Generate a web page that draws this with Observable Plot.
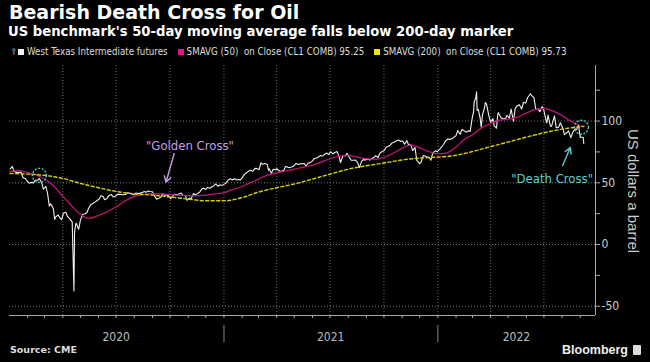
<!DOCTYPE html>
<html><head><meta charset="utf-8">
<script src="https://cdn.jsdelivr.net/npm/d3@7"></script>
<script src="https://cdn.jsdelivr.net/npm/@observablehq/plot@0.6"></script>
<style>
body{margin:0;background:#000;width:650px;height:362px;overflow:hidden;position:relative;}
.narrow{font-family:"Liberation Sans Narrow","DejaVu Sans Condensed","Roboto Condensed",sans-serif;font-stretch:condensed;}
#title{position:absolute;left:9px;top:1px;font:bold 19px "DejaVu Sans",sans-serif;color:#fff;white-space:nowrap;}
#subtitle{position:absolute;left:8px;top:24px;font:bold 13.2px "DejaVu Sans",sans-serif;color:#fff;white-space:nowrap;}
#legend{position:absolute;left:12px;top:46px;font-size:9.7px;color:#ddd;display:flex;align-items:center;white-space:nowrap;}
#legend .sw{display:inline-block;width:6px;height:6px;margin-right:3px;}
#legend .item{display:flex;align-items:center;margin-right:10px;}
#chart{position:absolute;left:0;top:58px;}
#ytitle{position:absolute;left:633px;top:191px;transform:translate(-50%,-50%) rotate(90deg);font:15px "Liberation Sans",sans-serif;color:#ccc;white-space:nowrap;}
#source{position:absolute;left:10px;top:344px;font:bold 9.5px "DejaVu Sans",sans-serif;color:#ddd;}
#brand{position:absolute;right:9px;top:343px;font:bold 12.5px "Liberation Sans",sans-serif;color:#eee;display:flex;align-items:center;}
#brand .logo{display:inline-block;width:8px;height:10px;background:#ddd;border-radius:1px;margin-left:5px;}
</style></head><body>
<div id="title">Bearish Death Cross for Oil</div>
<div id="subtitle">US benchmark's 50-day moving average falls below 200-day marker</div>
<div id="legend" class="narrow"></div>
<div id="chart"></div>
<div id="ytitle">US dollars a barrel</div>
<div id="source">Source: CME</div>
<div id="brand">Bloomberg<span class="logo"></span></div>
<script>
// ---- Data ----
const wtiDates = [
"2020-01-02","2020-01-06","2020-01-08","2020-01-10","2020-01-14","2020-01-17","2020-01-21","2020-01-24","2020-01-28","2020-01-31",
"2020-02-04","2020-02-07","2020-02-11","2020-02-14","2020-02-18","2020-02-21","2020-02-25","2020-02-28","2020-03-03","2020-03-06",
"2020-03-09","2020-03-11","2020-03-13","2020-03-16","2020-03-18","2020-03-20","2020-03-24","2020-03-27","2020-03-30","2020-04-02",
"2020-04-06","2020-04-09","2020-04-14","2020-04-17","2020-04-20","2020-04-21","2020-04-23","2020-04-24","2020-04-28","2020-05-01",
"2020-05-05","2020-05-08","2020-05-12","2020-05-15","2020-05-19","2020-05-22","2020-05-26","2020-05-29","2020-06-02","2020-06-05",
"2020-06-09","2020-06-11","2020-06-15","2020-06-19","2020-06-23","2020-06-26","2020-06-30","2020-07-03","2020-07-07","2020-07-10",
"2020-07-14","2020-07-17","2020-07-21","2020-07-24","2020-07-28","2020-07-31","2020-08-04","2020-08-07","2020-08-11","2020-08-14",
"2020-08-18","2020-08-21","2020-08-25","2020-08-28","2020-09-01","2020-09-04","2020-09-08","2020-09-11","2020-09-15","2020-09-18",
"2020-09-22","2020-09-25","2020-09-29","2020-10-02","2020-10-06","2020-10-09","2020-10-13","2020-10-16","2020-10-20","2020-10-23",
"2020-10-27","2020-10-30","2020-11-03","2020-11-06","2020-11-10","2020-11-13","2020-11-17","2020-11-20","2020-11-24","2020-11-27",
"2020-12-01","2020-12-04","2020-12-08","2020-12-11","2020-12-15","2020-12-18","2020-12-22","2020-12-24","2020-12-29","2020-12-31",
"2021-01-05","2021-01-08","2021-01-12","2021-01-15","2021-01-20","2021-01-22","2021-01-26","2021-01-29","2021-02-02","2021-02-05",
"2021-02-09","2021-02-12","2021-02-16","2021-02-19","2021-02-23","2021-02-26","2021-03-02","2021-03-05","2021-03-08","2021-03-12",
"2021-03-16","2021-03-18","2021-03-19","2021-03-23","2021-03-26","2021-03-30","2021-04-01","2021-04-06","2021-04-09","2021-04-13",
"2021-04-16","2021-04-20","2021-04-23","2021-04-27","2021-04-30","2021-05-04","2021-05-07","2021-05-11","2021-05-14","2021-05-18",
"2021-05-21","2021-05-25","2021-05-28","2021-06-01","2021-06-04","2021-06-08","2021-06-11","2021-06-15","2021-06-18","2021-06-22",
"2021-06-25","2021-06-29","2021-07-02","2021-07-06","2021-07-09","2021-07-13","2021-07-16","2021-07-19","2021-07-23","2021-07-27",
"2021-07-30","2021-08-03","2021-08-06","2021-08-10","2021-08-13","2021-08-17","2021-08-20","2021-08-24","2021-08-27","2021-08-31",
"2021-09-03","2021-09-07","2021-09-10","2021-09-14","2021-09-17","2021-09-21","2021-09-24","2021-09-28","2021-10-01","2021-10-05",
"2021-10-08","2021-10-12","2021-10-15","2021-10-19","2021-10-22","2021-10-26","2021-10-29","2021-11-02","2021-11-05","2021-11-09",
"2021-11-12","2021-11-16","2021-11-19","2021-11-23","2021-11-26","2021-11-30","2021-12-01","2021-12-03","2021-12-07","2021-12-10",
"2021-12-14","2021-12-17","2021-12-20","2021-12-23","2021-12-28","2021-12-31","2022-01-04","2022-01-07","2022-01-11","2022-01-14",
"2022-01-18","2022-01-21","2022-01-25","2022-01-28","2022-02-01","2022-02-04","2022-02-08","2022-02-11","2022-02-15","2022-02-18",
"2022-02-23","2022-02-25","2022-03-01","2022-03-03","2022-03-04","2022-03-07","2022-03-08","2022-03-09","2022-03-11","2022-03-14",
"2022-03-16","2022-03-18","2022-03-22","2022-03-23","2022-03-25","2022-03-29","2022-04-01","2022-04-05","2022-04-07","2022-04-11",
"2022-04-13","2022-04-14","2022-04-19","2022-04-22","2022-04-26","2022-04-29","2022-05-03","2022-05-06","2022-05-10","2022-05-13",
"2022-05-17","2022-05-20","2022-05-24","2022-05-27","2022-05-31","2022-06-03","2022-06-08","2022-06-10","2022-06-14","2022-06-17",
"2022-06-21","2022-06-24","2022-06-28","2022-07-01","2022-07-05","2022-07-06","2022-07-08","2022-07-12","2022-07-14","2022-07-15",
"2022-07-19","2022-07-22","2022-07-26","2022-07-29","2022-08-02","2022-08-05","2022-08-09","2022-08-12","2022-08-16","2022-08-19",
"2022-08-23","2022-08-26","2022-08-29","2022-09-01","2022-09-02","2022-09-06","2022-09-07"
];
const wtiClose = [
61.18,63.27,59.61,59.04,58.23,58.54,58.34,54.19,53.48,51.56,
49.61,50.32,49.94,52.05,52.05,53.38,49.90,44.76,47.18,41.28,
31.13,32.98,31.73,28.70,20.37,22.43,24.01,21.51,20.09,25.32,
26.08,22.76,20.11,18.27,-37.63,10.01,16.50,17.18,12.34,19.78,
24.56,24.74,25.78,29.43,32.50,33.25,34.35,35.49,36.81,39.55,
38.94,36.34,37.12,39.75,40.37,38.49,39.27,40.65,40.62,40.55,
40.29,40.59,41.92,41.29,41.04,40.27,41.70,41.22,41.61,42.01,
42.89,42.34,43.35,42.97,42.76,39.77,36.76,37.33,38.28,41.11,
39.80,40.25,39.29,37.05,39.57,40.60,40.20,40.88,41.70,39.85,
39.57,35.79,37.66,37.14,41.36,40.13,41.43,42.15,44.91,45.53,
44.55,46.26,45.60,46.57,47.62,49.10,47.02,48.23,48.00,48.52,
49.93,52.24,53.21,52.36,53.31,52.27,52.61,52.20,54.76,56.85,
58.36,59.47,60.05,59.24,61.67,61.50,60.64,66.09,65.05,65.61,
64.80,60.00,61.42,57.76,60.97,60.55,61.45,59.33,59.32,60.18,
63.13,62.67,62.14,62.94,63.58,65.69,64.90,65.28,65.37,65.49,
63.58,66.07,66.32,67.72,69.62,70.05,70.91,72.12,71.64,73.06,
74.05,72.98,75.16,73.37,74.56,75.25,71.81,66.42,72.07,71.65,
73.95,70.56,68.28,68.29,68.44,66.59,62.32,67.54,68.74,68.50,
69.29,68.35,69.72,70.46,71.97,70.49,73.98,75.29,75.88,78.93,
79.35,80.64,82.28,82.96,83.76,84.65,83.57,83.91,81.27,84.15,
80.79,80.76,76.10,78.50,68.15,66.18,65.57,66.26,72.05,71.67,
70.73,70.86,68.23,73.79,75.98,75.21,76.99,78.90,81.22,83.82,
85.43,85.14,85.60,86.82,88.20,92.31,89.36,93.10,92.07,91.07,
92.10,91.59,103.41,107.67,115.68,119.40,123.70,108.70,109.33,103.01,
95.04,104.70,111.76,114.93,113.90,104.24,99.27,102.00,96.03,94.29,
104.25,106.95,102.56,102.07,101.70,104.69,102.41,109.77,99.76,110.49,
112.40,113.23,109.77,115.07,114.67,118.87,122.11,120.67,118.93,109.56,
109.52,107.62,111.76,108.43,99.50,98.53,104.79,95.84,95.78,97.59,
104.22,94.70,94.98,98.62,94.42,89.01,90.50,92.09,86.53,90.77,
93.74,93.06,97.01,86.61,86.87,86.88,81.94
];
const sma50Dates = [
"2020-01-02","2020-01-15","2020-02-01","2020-02-15","2020-03-01","2020-03-15","2020-04-01","2020-04-15","2020-05-01","2020-05-15",
"2020-06-01","2020-06-15","2020-07-01","2020-07-15","2020-08-01","2020-08-15","2020-09-01","2020-09-15","2020-10-01","2020-10-15",
"2020-11-01","2020-11-15","2020-12-01","2020-12-15","2021-01-01","2021-01-15","2021-02-01","2021-02-15","2021-03-01","2021-03-15",
"2021-04-01","2021-04-15","2021-05-01","2021-05-15","2021-06-01","2021-06-15","2021-07-01","2021-07-15","2021-08-01","2021-08-15",
"2021-09-01","2021-09-15","2021-10-01","2021-10-15","2021-11-01","2021-11-15","2021-12-01","2021-12-15","2022-01-01","2022-01-15",
"2022-02-01","2022-02-15","2022-03-01","2022-03-15","2022-04-01","2022-04-15","2022-05-01","2022-05-15","2022-06-01","2022-06-15",
"2022-07-01","2022-07-15","2022-08-01","2022-08-15","2022-09-01","2022-09-07"
];
const sma50Values = [
59.0,59.8,58.2,56.3,53.0,48.0,39.0,32.0,24.5,21.2,
23.5,26.5,30.5,35.0,39.0,40.5,41.3,41.0,40.5,40.0,
39.6,39.4,40.0,41.0,42.0,44.5,47.0,50.0,53.0,56.0,
58.0,59.5,61.0,62.5,64.3,66.5,69.5,71.5,72.2,71.0,
69.5,69.0,70.5,73.5,78.0,80.5,78.5,75.5,73.5,74.0,
79.0,85.0,89.0,94.0,98.0,100.5,101.5,103.0,106.5,109.2,
110.0,108.5,104.5,100.0,96.2,95.25
];
const sma200Dates = [
"2020-01-02","2020-02-01","2020-03-01","2020-04-01","2020-05-01","2020-06-01","2020-07-01","2020-08-01","2020-09-01","2020-10-01",
"2020-11-01","2020-12-01","2021-01-01","2021-02-01","2021-03-01","2021-04-01","2021-05-01","2021-06-01","2021-07-01","2021-08-01",
"2021-09-01","2021-10-01","2021-11-01","2021-12-01","2022-01-01","2022-02-01","2022-03-01","2022-04-01","2022-05-01","2022-06-01",
"2022-07-01","2022-08-01","2022-09-01","2022-09-07"
];
const sma200Values = [
57.5,57.0,56.0,53.5,49.5,46.0,43.0,41.0,40.0,38.5,
36.8,35.4,35.4,38.0,42.5,46.0,49.0,53.0,57.0,61.0,
63.8,66.0,68.5,70.0,70.8,72.3,75.3,79.3,83.0,87.0,
90.5,93.5,95.4,95.73
];
// axis ticks / labels
const yMajorTicks = [100, 50, 0, -50];
const yMinorTicks = [125, 75, 25, -25];
const yearLabels = ["2020", "2021", "2022"];
const yearLabelDates = ["2020-07-01", "2021-07-02", "2022-05-15"];
const yearStarts = ["2021-01-01", "2022-01-01"];
const quarterGrid = ["2020-04-01","2020-07-01","2020-10-01","2021-01-01","2021-04-01","2021-07-01","2021-10-01","2022-01-01","2022-04-01","2022-07-01"];
// legend
const legendLabels = ["West Texas Intermediate futures", "SMAVG (50)  on Close (CL1 COMB) 95.25", "SMAVG (200)  on Close (CL1 COMB) 95.73"];
// annotations
const crossDates = ["2020-02-21", "2022-09-03"];
const crossValues = [56, 95];
const annoTexts = ["\"Golden Cross\"", "\"Death Cross\""];
const annoTextDates = ["2020-11-04", "2022-07-15"];
const annoTextValues = [80, 53.5];
const arrowFromDates = ["2020-10-08", "2022-08-02"];
const arrowFromValues = [73.5, 64];
const arrowToDates = ["2020-09-24", "2022-08-15"];
const arrowToValues = [50.5, 78.5];

// ---- Build ----
const D = s => new Date(s + "T00:00:00Z");
const C = {wti: "#f0f0f0", sma50: "#cc127c", sma200: "#d6d000", gold: "#c49ee8", death: "#5ccfcf", axis: "#a8a8a8"};
const narrow = "'Liberation Sans Narrow','DejaVu Sans Condensed','Roboto Condensed',sans-serif";

const wti = wtiDates.map((d, i) => ({date: D(d), value: wtiClose[i]}));
const sma50 = sma50Dates.map((d, i) => ({date: D(d), value: sma50Values[i]}));
const sma200 = sma200Dates.map((d, i) => ({date: D(d), value: sma200Values[i]}));
const crosses = crossDates.map((d, i) => ({date: D(d), value: crossValues[i]}));
const annos = annoTexts.map((t, i) => ({text: t, date: D(annoTextDates[i]), value: annoTextValues[i], color: i ? C.death : C.gold}));
const arrows = arrowFromDates.map((d, i) => ({x1: D(d), y1: arrowFromValues[i], x2: D(arrowToDates[i]), y2: arrowToValues[i], color: i ? C.death : C.gold}));
const years = yearLabels.map((t, i) => ({text: t, date: D(yearLabelDates[i])}));

const xDomain = [D("2020-01-01"), D("2022-09-27")];
const yDomain = [-57.5, 145];
const months = d3.utcMonths(D("2020-02-01"), xDomain[1]);

// legend
const legendColors = [C.wti, "#e0168a", "#efe300"];
const lg = document.getElementById("legend");
lg.innerHTML = `<span style="color:#999;font-size:9px;margin-right:2px">&#x2AEF;</span>` + legendLabels.map((l, i) =>
  `<span class="item"><span class="sw" style="background:${legendColors[i]}"></span>${l.replace(/ /g, "&nbsp;")}</span>`).join("");

const chart = Plot.plot({
  width: 650, height: 290,
  marginTop: 7, marginBottom: 33, marginLeft: 9, marginRight: 55,
  style: {background: "#000", color: "#ccc", fontFamily: narrow, fontSize: "12px", overflow: "visible"},
  x: {type: "utc", domain: xDomain, axis: null},
  y: {domain: yDomain, axis: null},
  marks: [
    Plot.ruleY(yMajorTicks, {stroke: "#777", strokeDasharray: "1,2"}),
    Plot.ruleX(quarterGrid.map(D), {stroke: "#6a6a6a", strokeDasharray: "1,2"}),
    Plot.ruleY([yDomain[0]], {stroke: C.axis}),
    Plot.ruleX([xDomain[1]], {stroke: C.axis}),
    Plot.axisX(months, {tickSize: 3, tickFormat: () => "", stroke: C.axis, label: null}),
    Plot.ruleX(yearStarts.map(D), {y1: yDomain[0] - 8, y2: yDomain[0] - 22, stroke: "#888"}),
    Plot.text(years, {x: "date", y: yDomain[0], dy: 22, text: "text", fill: "#bbb", fontSize: 12, fontFamily: narrow}),
    Plot.axisY(yMajorTicks, {anchor: "right", tickSize: 4, tickPadding: 2, stroke: C.axis, fill: "#ccc", fontSize: 12, tickFormat: d => String(d), label: null}),
    Plot.axisY(yMinorTicks, {anchor: "right", tickSize: 4, stroke: C.axis, tickFormat: () => "", label: null}),
    Plot.line(wti, {x: "date", y: "value", stroke: C.wti, strokeWidth: 1.1}),
    Plot.line(sma50, {x: "date", y: "value", stroke: C.sma50, strokeWidth: 1.2, curve: "monotone-x"}),
    Plot.line(sma200, {x: "date", y: "value", stroke: C.sma200, strokeWidth: 1.4, strokeDasharray: "3,2.5", curve: "monotone-x"}),
    Plot.dot(crosses, {x: "date", y: "value", r: 7, stroke: C.death, strokeWidth: 1.3, strokeDasharray: "2,1.5", fill: "none"}),
    Plot.arrow(arrows, {x1: "x1", y1: "y1", x2: "x2", y2: "y2", stroke: "color", strokeWidth: 1.4, headLength: 7}),
    Plot.text(annos, {x: "date", y: "value", text: "text", fill: "color", fontSize: 13, fontFamily: narrow})
  ]
});
document.getElementById("chart").appendChild(chart);
</script>
</body></html>
